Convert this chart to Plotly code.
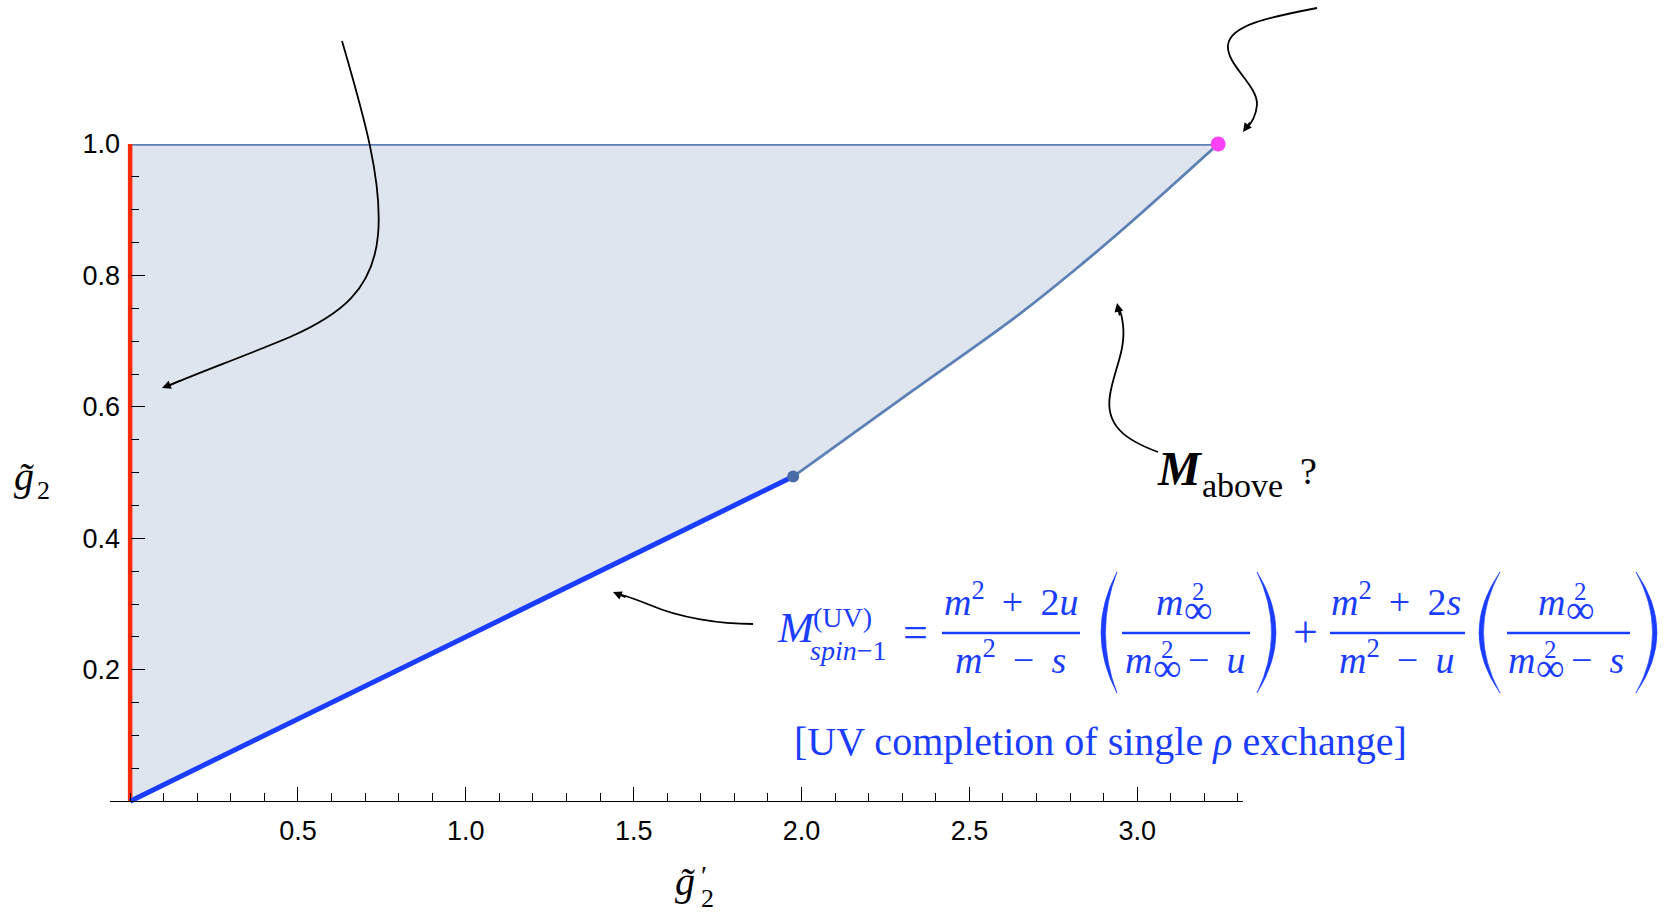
import re
import plotly.graph_objects as go

# ---------------- data ----------------
# lower-left straight boundary (blue) : g2 = g2'/4
blue_x = [0.0, 1.975]
blue_y = [0.0, 0.494]
# vertical boundary at g2' = 0 (red)
red_x = [0.0, 0.0]
red_y = [0.0, 1.0]
# upper boundary g2 = 1
top_x = [0.0, 3.241]
top_y = [1.0, 1.0]
# curved right boundary (from kink to corner)
curve_x = [1.975, 2.332, 2.651, 2.839, 2.988, 3.241]
curve_y = [0.494, 0.625, 0.742, 0.819, 0.884, 1.0]
# special points
kink_x, kink_y = [1.975], [0.494]
corner_x, corner_y = [3.241], [1.0]

x_ticks = [0.5, 1.0, 1.5, 2.0, 2.5, 3.0]
y_ticks = [0.2, 0.4, 0.6, 0.8, 1.0]
x_range = [-0.06, 3.315]
y_range = [-0.018, 1.0]

# ---------------- styling ----------------
STEEL = '#5e81b5'
FILL = '#dee5ef'
RED = '#ff2a0a'
BLUE = '#1a3dff'
PINK = '#ff40f5'
SERIF = 'Liberation Serif'
SANS = 'Liberation Sans'

W, H = 1673, 913
L, T, R, B = 110, 144, 430, 100
PW, PH = W - L - R, H - T - B


def px(x):
    return (x - L) / PW


def py(y):
    return (T + PH - y) / PH


def P(x, y):
    return f"{px(x):.5f},{py(y):.5f}"


DESC = 0.216


def txt(text, x, base, size, anchor='left', color=BLUE, family=SERIF):
    return dict(text=text, x=px(x), y=py(base + DESC * size), xref='paper', yref='paper',
                xanchor=anchor, yanchor='bottom', showarrow=False, borderpad=0, borderwidth=0,
                font=dict(size=size, color=color, family=family))


fig = go.Figure()

# region: straight-edged polygon ...
poly_x = red_x + [top_x[1]] + curve_x[::-1] + [blue_x[0]]
poly_y = red_y + [top_y[1]] + curve_y[::-1] + [blue_y[0]]
fig.add_trace(go.Scatter(x=poly_x, y=poly_y, fill='toself', fillcolor=FILL,
                         mode='lines', line=dict(width=0), hoverinfo='skip'))
# ... plus smooth part under the curved boundary
fig.add_trace(go.Scatter(x=curve_x, y=curve_y, mode='lines',
                         line=dict(width=0, shape='spline', smoothing=1), hoverinfo='skip'))
fig.add_trace(go.Scatter(x=top_x, y=top_y, mode='lines', fill='tonexty', fillcolor=FILL,
                         line=dict(width=0), hoverinfo='skip'))
# boundaries
fig.add_trace(go.Scatter(x=top_x, y=top_y, mode='lines', line=dict(color=STEEL, width=3.4), cliponaxis=False))
fig.add_trace(go.Scatter(x=curve_x, y=curve_y, mode='lines',
                         line=dict(color=STEEL, width=2.8, shape='spline', smoothing=1), cliponaxis=False))
fig.add_trace(go.Scatter(x=red_x, y=red_y, mode='lines', line=dict(color=RED, width=4.5), cliponaxis=False))
fig.add_trace(go.Scatter(x=blue_x, y=blue_y, mode='lines', line=dict(color=BLUE, width=5), cliponaxis=False))
fig.add_trace(go.Scatter(x=kink_x, y=kink_y, mode='markers', marker=dict(color='#4a6ca6', size=12), cliponaxis=False))
fig.add_trace(go.Scatter(x=corner_x, y=corner_y, mode='markers', marker=dict(color=PINK, size=15), cliponaxis=False))

ann = []
shapes = []

# ---------- curved arrows ----------
arrows = [
    ("M342,41 C362,110 383,180 378,235 C373,290 340,315 290,337 C240,358 200,372 168,386", (162, 388), (20, -8)),
    ("M1317,8 C1270,17 1230,25 1228,45 C1226,65 1258,85 1257,105 C1256,115 1251,124 1246,129", (1243, 132), (8, -11)),
    ("M1158,452 C1125,440 1105,425 1110,395 C1114,370 1126,350 1123,325 C1122,315 1120,310 1118,307", (1117, 303), (3, 14)),
    ("M753,624 C720,624 680,618 650,605 C635,599 626,596 619,594", (613, 592), (14, 6)),
]
for path, tip, off in arrows:
    def conv(m):
        return P(float(m.group(1)), float(m.group(2)))
    pth = re.sub(r"(-?\d+(?:\.\d+)?),(-?\d+(?:\.\d+)?)", conv, path)
    shapes.append(dict(type='path', path=pth, xref='paper', yref='paper',
                       line=dict(color='black', width=1.8)))
    ann.append(dict(text='', x=px(tip[0]), y=py(tip[1]), xref='paper', yref='paper',
                    showarrow=True, ax=off[0], ay=off[1], arrowhead=2, arrowsize=1.1,
                    arrowwidth=1.6, arrowcolor='black', standoff=0))

# ---------- formula ----------
F = 38
SP = ' \u2009'
ann.append(txt('<i>M</i>', 777, 642, 43))
ann.append(txt('(UV)', 813, 627, 28))
ann.append(txt('<i>spin</i>−1', 810, 660, 28))
ann.append(txt('=', 915, 647, 44, anchor='center'))
ann.append(txt('+', 1306, 647, 44, anchor='center'))


def bar(x0, x1, y=633):
    shapes.append(dict(type='line', xref='paper', yref='paper', x0=px(x0), x1=px(x1),
                       y0=py(y), y1=py(y), line=dict(color=BLUE, width=2.6)))


def paren(x_end, bulge, top=572, bot=693, thick=4.5):
    mid = (top + bot) / 2
    sgn = 1 if bulge < x_end else -1
    co = 2 * bulge - x_end
    ci = 2 * (bulge + sgn * thick) - x_end
    path = f"M {P(x_end, top)} Q {P(co, mid)} {P(x_end, bot)} Q {P(ci, mid)} {P(x_end, top)} Z"
    shapes.append(dict(type='path', path=path, xref='paper', yref='paper',
                       fillcolor=BLUE, line=dict(color=BLUE, width=0.6)))


def minf(x0, base, tail=''):
    ann.append(txt('<i>m</i>', x0 - 2, base, F))
    ann.append(txt('2', x0 + 40, base - 15, 25, anchor='center'))
    ann.append(txt('∞', x0 + 40, base + 8, 40, anchor='center'))
    if tail:
        ann.append(txt(tail, x0 + 61, base, F))


# first fraction
ann.append(txt('<i>m</i><sup>2</sup>' + SP + '+' + SP + '2<i>u</i>', 1011, 615, F, anchor='center'))
bar(942, 1080)
ann.append(txt('<i>m</i><sup>2</sup>' + SP + '−' + SP + '<i>s</i>', 1010, 673, F, anchor='center'))
paren(1117, 1101)
minf(1158, 615)
bar(1122, 1250)
minf(1127, 673, '−' + SP + '<i>u</i>')
paren(1257, 1276)
# second fraction
ann.append(txt('<i>m</i><sup>2</sup>' + SP + '+' + SP + '2<i>s</i>', 1396, 615, F, anchor='center'))
bar(1330, 1465)
ann.append(txt('<i>m</i><sup>2</sup>' + SP + '−' + SP + '<i>u</i>', 1396, 673, F, anchor='center'))
paren(1500, 1479)
minf(1540, 615)
bar(1507, 1630)
minf(1510, 673, '−' + SP + '<i>s</i>')
paren(1636, 1657)

ann.append(txt('[UV completion of single <i>ρ</i> exchange]', 1100, 755, 40, anchor='center'))

# M_above ?
ann.append(txt('<b><i>M</i></b>', 1157, 485, 48, color='black'))
ann.append(txt('above', 1202, 497, 34, color='black'))
ann.append(txt('?', 1300, 484, 38, color='black'))

# axis titles
ann.append(txt('<i>g̃</i>', 14, 490, 40, color='black'))
ann.append(txt('2', 37, 499, 26, color='black'))
ann.append(txt('<i>g̃</i>', 675, 895, 40, color='black'))
ann.append(txt('′', 701, 885, 28, color='black'))
ann.append(txt('2', 701, 907, 26, color='black'))

xpos = (0 - y_range[0]) / (y_range[1] - y_range[0])
ypos = (0 - x_range[0]) / (x_range[1] - x_range[0])

fig.update_layout(
    width=W, height=H, margin=dict(l=L, r=R, t=T, b=B, autoexpand=False),
    paper_bgcolor='white', plot_bgcolor='white', showlegend=False,
    font=dict(family=SANS, color='black'),
    xaxis=dict(range=x_range, showgrid=False, zeroline=False, showline=True, linecolor='black',
               linewidth=1.3, ticks='inside', ticklen=14, tickwidth=1, tickcolor='black',
               tickmode='array', tickvals=x_ticks, tickformat='.1f',
               tickfont=dict(size=27, family=SANS), ticklabelstandoff=5,
               minor=dict(dtick=0.1, tick0=0, ticks='inside', ticklen=8, tickcolor='black', tickwidth=1),
               anchor='free', position=xpos),
    yaxis=dict(range=y_range, showgrid=False, zeroline=False, showline=False,
               ticks='inside', ticklen=14, tickwidth=1, tickcolor='black',
               tickmode='array', tickvals=y_ticks, tickformat='.1f',
               tickfont=dict(size=27, family=SANS), ticklabelstandoff=10,
               minor=dict(dtick=0.05, tick0=0, ticks='inside', ticklen=8, tickcolor='black', tickwidth=1),
               anchor='free', position=ypos),
    annotations=ann, shapes=shapes,
)

fig.write_html("out.html")
